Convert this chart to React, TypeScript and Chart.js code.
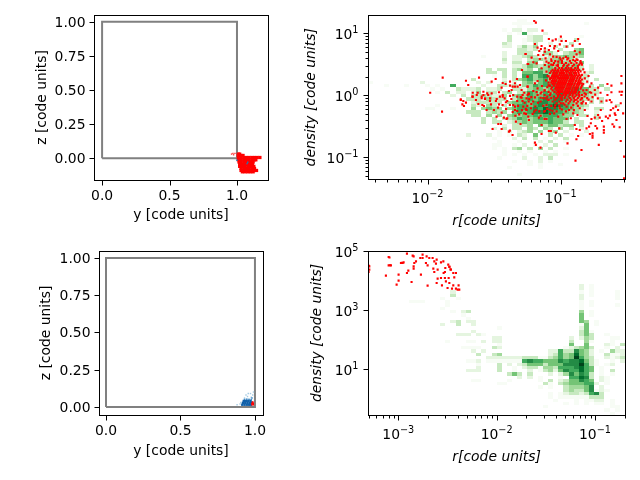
import { useEffect, useRef } from "react";
import { Chart, registerables } from "chart.js";

Chart.register(...registerables);
Chart.defaults.font.family = '"DejaVu Sans"';
Chart.defaults.color = "#000";

// colormap steps of the 2d histograms (digit 1..9 in the bin lists)
const GREENS = ["", "#f7fcf5", "#e5f5e0", "#c7e9c0", "#a1d99b", "#74c476", "#41ab5d", "#238b45", "#006d2c", "#00441b"];
const BINS = 50;

const boxEdge = [[0, 0], [1, 0], [1, 1], [0, 1], [0, 0]];

// top left panel, y / z position of the particles
const topBlobZ = [0.03, 0.02, 0.005, -0.012, -0.028, -0.045, -0.06, -0.075, -0.09, -0.1];
const topBlobY = [
  [1.01, 1.02],
  [1.01, 1.03, 1.045],
  [1.01, 1.03, 1.05, 1.07, 1.09, 1.11, 1.13, 1.15, 1.17],
  [1.01, 1.03, 1.05, 1.07, 1.09, 1.11, 1.13, 1.14],
  [1.015, 1.03, 1.05, 1.07, 1.09, 1.105, 1.12],
  [1.02, 1.04, 1.06, 1.08, 1.1, 1.115],
  [1.02, 1.04, 1.06, 1.08, 1.1, 1.115, 1.125],
  [1.03, 1.05, 1.07, 1.09, 1.11, 1.13],
  [1.03, 1.05, 1.07, 1.09, 1.11, 1.13, 1.145],
  [1.04, 1.06, 1.08, 1.1, 1.12],
];
const topStray = [[0.96, 0.03], [0.975, 0.025], [0.985, 0.035], [0.97, 0.035]];
const topBlue = [[1.0, -0.015], [1.075, -0.04], [1.08, -0.03]];

// bottom left panel
const lowLight = [[0.88, 0.015], [0.9, 0.02], [0.92, 0.02], [0.93, 0.06], [0.95, 0.07], [0.97, 0.09], [0.985, 0.08], [0.94, 0.08], [0.96, 0.055], [0.975, 0.065], [0.99, 0.1], [0.905, 0.03], [0.955, 0.09]];
const lowMid = [[0.93, 0.05], [0.945, 0.052], [0.96, 0.048], [0.975, 0.05], [0.98, 0.06]];
const lowDark = [
  [0.915, 0.015], [0.93, 0.015], [0.945, 0.015], [0.96, 0.015], [0.972, 0.015],
  [0.92, 0.028], [0.935, 0.028], [0.95, 0.028], [0.965, 0.028], [0.975, 0.03],
  [0.925, 0.04], [0.94, 0.04], [0.955, 0.04], [0.97, 0.04],
];
const lowRed = [[0.98, 0.015], [0.988, 0.015], [0.98, 0.025], [0.988, 0.025], [0.985, 0.033]];

// top right panel, [row from top, first column, counts]
const topHist: [number, number, string][] = [
  [1, 29, "11"], [2, 28, "1111"], [2, 42, "1"], [3, 29, "1"], [4, 26, "1.22.22"], [5, 27, "1.161..2"],
  [6, 27, "3...233"], [6, 41, "1"], [7, 27, "3..1233...2..3"], [8, 26, "32..1.3..2...3"], [9, 26, "22.2424...3.3"],
  [10, 29, "3323.2..3..45"], [11, 26, "2..333.1442.3445"], [12, 22, "1...2.22343223445434"],
  [13, 26, "3.22.3443345342"], [14, 26, "2.33.45.34454435"], [15, 28, "22354345445453.2"],
  [16, 23, "3.33.3434.545546553.2"], [17, 23, "33.3.3.55664565452.23"], [18, 24, "1.3.3.6646746565333"],
  [19, 20, "3.....2.345645645555432.3"], [20, 0, "1"], [20, 10, "2..........2.2..3.2.4535656545332"],
  [21, 3, "1...1...1.1..6.....2..33232446566665544.3.4"], [22, 12, "1.1..32223.223..33245545665675533.3"],
  [23, 13, "1.3.22.24.33.34.3465465676765533"], [24, 16, "2.3.3343224.45465566676554432"],
  [25, 19, "33324333.3556567677653433.3"], [26, 20, "233333.455656776765544.3.3"],
  [27, 13, "1......32.43.3.566567678765443.....3"], [28, 11, "11...1...4.4544.4566676877665432.33"],
  [29, 19, "333.3434.56567787665443..2"], [30, 20, "33.4.4.4545565666544.33.3"],
  [31, 22, "3.3.3346545656555.3...3"], [32, 22, "3.33.234545556553.33"], [33, 26, "2.3334.5355344.3"],
  [34, 24, "2.3.33.43.43.4.3.2"], [35, 25, "1.2.234.4.34.2...2"], [36, 19, "2...2.1.1.32.5..3.3.1.1"],
  [37, 24, "1...2.3.3.1.2.3"], [38, 25, "1...1...2.3..1"], [39, 24, "11..1.2.1.2.3"], [40, 24, "1.1.34.3.4.3..1"],
  [41, 26, "1..1.1..1.1"], [42, 26, "1.1.1.1.222.1"], [43, 25, "1....2..2.3"], [44, 28, "1..1.2.1"],
  [45, 31, "1.1...1"], [46, 27, "1.....1"], [48, 29, "1"],
];
const topLogR = [-2.445, -0.516];
const topLogDensity = [-1.355, 1.29];

// red particles, [log10 r, log10 density]
const topPoints = [
  [-1.98, 0.04], [-1.886, 0.284], [-1.891, -0.264], [-1.75, -0.076], [-1.731, -0.092], [-1.738, -0.146], [-1.726, -0.172], [-1.711, -0.119],
  [-1.711, 0.235], [-1.613, 0.284], [-1.694, 0.166], [-1.518, 0.22], [-1.488, 0.263], [-1.435, 0.198], [-1.413, 0.182], [-1.38, 0.22],
  [-1.343, 0.194], [-1.328, 0.263], [-1.263, 0.666], [-1.248, 0.505], [-1.29, 0.408], [-1.248, 0.3], [-1.38, 0.155], [-1.36, 0.14],
  [-1.343, 0.14], [-1.323, 0.14], [-1.305, 0.166], [-1.248, 0.14], [-1.443, 0.123], [-1.66, 0.04], [-1.623, 0.04], [-1.58, 0.058],
  [-1.551, 0.03], [-1.518, 0.03], [-1.463, 0.048], [-1.435, 0.005], [-1.388, 0.07], [-1.368, 0.086], [-1.293, 0.086], [-1.273, 0.04],
  [-1.24, 0.03], [-1.66, -0.022], [-1.63, 0.005], [-1.58, 0.005], [-1.544, 0.005], [-1.593, -0.048], [-1.568, -0.06], [-1.53, -0.05],
  [-1.435, -0.022], [-1.38, -0.01], [-1.356, 0.005], [-1.326, -0.022], [-1.285, 0.005], [-1.248, 0.005], [-1.75, -0.065], [-1.663, -0.022],
  [-1.636, -0.076], [-1.618, -0.14], [-1.593, -0.022], [-1.588, -0.156], [-1.576, -0.172], [-1.568, -0.049], [-1.556, -0.237], [-1.501, -0.237],
  [-1.531, -0.092], [-1.523, -0.146], [-1.486, -0.092], [-1.463, -0.146], [-1.456, -0.022], [-1.436, -0.156], [-1.411, -0.113], [-1.401, -0.092],
  [-1.381, -0.156], [-1.356, -0.156], [-1.326, -0.092], [-1.293, -0.038], [-1.286, -0.092], [-1.256, -0.049], [-1.24, -0.1], [-1.443, -0.28],
  [-1.481, -0.345], [-1.426, -0.36], [-1.401, -0.371], [-1.406, -0.382], [-1.326, -0.253], [-1.343, -0.237], [-1.311, -0.307], [-1.273, -0.291],
  [-1.256, -0.237], [-1.238, -0.398], [-1.336, -0.425], [-1.301, -0.463], [-1.468, -0.463], [-1.448, -0.463], [-1.511, -0.543], [-1.443, -0.543],
  [-1.388, -0.586], [-1.381, -0.57], [-1.361, -0.64], [-1.281, -0.183], [-1.261, -0.22], [-1.343, -0.183], [-1.256, -0.237], [-1.243, -0.344],
  [-1.236, -0.06], [-1.206, -0.1], [-1.223, -0.21], [-1.198, -0.264], [-1.186, -0.237], [-1.163, -0.36], [-1.143, -0.479], [-1.123, -0.264],
  [-1.106, -0.382], [-1.106, -0.156], [-1.088, -0.576], [-1.073, -0.576], [-1.036, -0.602], [-1.01, -0.533], [-1.018, -0.344], [-1.048, -0.291],
  [-0.98, -0.307], [-0.955, -0.382], [-0.923, -0.371], [-0.905, -0.291], [-0.873, -0.318], [-0.893, -0.479], [-0.881, -0.543], [-0.856, -0.56],
  [-0.868, -0.656], [-0.881, -0.71], [-0.948, -0.775], [-1.143, -0.624], [-1.193, -0.764], [-1.186, -0.8], [-1.151, -0.844], [-0.843, -0.882],
  [-0.888, -1.054], [-0.713, -0.8], [-0.78, -0.624], [-0.76, -0.613], [-0.76, -0.651], [-0.76, -0.683], [-0.805, -0.533], [-0.786, -0.506],
  [-0.773, -0.452], [-0.768, -0.382], [-0.738, -0.495], [-0.798, -0.334], [-0.743, -0.36], [-0.718, -0.318], [-0.706, -0.36], [-0.688, -0.414],
  [-0.675, -0.506], [-0.675, -0.56], [-0.675, -0.602], [-0.726, -0.533], [-0.66, -0.344], [-0.643, -0.371], [-0.63, -0.328], [-0.61, -0.468],
  [-0.598, -0.506], [-0.58, -0.398], [-0.556, -0.516], [-0.588, -0.318], [-0.593, -0.291], [-0.623, -0.237], [-0.605, -0.21], [-0.585, -0.183],
  [-0.568, -0.237], [-0.548, -0.129], [-0.53, -0.291], [-0.693, -0.1], [-0.655, -0.086], [-0.63, -0.076], [-0.618, -0.113], [-0.698, -0.237],
  [-0.548, -0.737], [-0.523, -0.99], [-0.523, -1.339], [-0.843, -0.129], [-0.856, -0.21], [-0.768, -0.1], [-0.905, -0.156], [-0.818, -0.237],
  [-0.936, -0.237], [-0.955, -0.183], [-0.998, -0.129], [-1.005, -0.21], [-0.93, -0.1], [-0.893, -0.076], [-1.043, -0.2], [-1.08, -0.237],
  [-1.118, -0.253], [-1.093, -0.076], [-1.198, 1.198], [-1.186, 1.171], [-1.136, 1.042], [-0.998, 0.946], [-1.088, 0.908], [-1.06, 0.881],
  [-1.036, 0.902], [-0.993, 0.876], [-0.96, 0.876], [-0.893, 0.876], [-0.868, 0.908], [-0.856, 0.827], [-1.193, 0.827], [-1.006, 0.822],
  [-0.91, 0.8], [-0.955, 0.784], [-1.173, 0.768], [-1.143, 0.795], [-1.08, 0.795], [-1.043, 0.795], [-1.118, 0.757], [-1.148, 0.747],
  [-1.048, 0.757], [-1.263, 0.666], [-1.16, 0.714], [-1.118, 0.704], [-1.088, 0.73], [-1.018, 0.714], [-0.893, 0.714], [-0.856, 0.693],
  [-0.88, 0.66], [-1.168, 0.65], [-1.13, 0.65], [-1.08, 0.66], [-1.056, 0.623], [-1.006, 0.607], [-1.218, 0.607], [-1.113, 0.596],
  [-1.156, 0.585], [-1.243, 0.505], [-1.205, 0.532], [-1.18, 0.515], [-1.106, 0.542], [-1.068, 0.553], [-1.018, 0.542], [-0.98, 0.596],
  [-0.943, 0.596], [-0.905, 0.569], [-0.873, 0.569], [-0.843, 0.515], [-1.143, 0.435], [-1.118, 0.489], [-1.088, 0.462], [-1.056, 0.489],
  [-1.03, 0.48], [-1.248, 0.3], [-1.106, 0.381], [-1.098, 0.316], [-1.08, 0.273], [-1.173, 0.23], [-1.193, 0.193], [-1.248, 0.139],
  [-1.173, 0.112], [-1.143, 0.048], [-1.205, 0.069], [-1.173, 0.005], [-1.238, 0.021], [-1.193, -0.033], [-0.818, 0.273], [-0.843, 0.193],
  [-0.78, 0.139], [-0.768, 0.193], [-0.805, 0.085], [-0.81, 0.015], [-0.78, 0.048], [-0.718, 0.123], [-0.743, 0.085], [-0.648, 0.182],
  [-0.618, 0.155], [-0.543, 0.311], [-0.543, 0.193], [-0.618, 0.048], [-0.556, 0.058], [-0.538, 0.058], [-0.648, 0.005], [-0.543, 0.005],
  // second pass over the band left of the cloud and its rim
  [-1.48, -0.06], [-1.47, -0.2], [-1.42, -0.05], [-1.41, -0.22], [-1.37, -0.06], [-1.36, -0.27], [-1.34, -0.33], [-1.32, -0.17], [-1.3, -0.03],
  [-1.29, -0.24], [-1.27, -0.12], [-1.26, -0.3], [-1.25, -0.17], [-1.22, -0.03], [-1.22, -0.14], [-1.21, -0.3], [-1.19, -0.18], [-1.18, 0.05],
  [-1.17, -0.12], [-1.16, -0.26], [-1.15, -0.04], [-1.15, -0.33], [-1.14, 0.15], [-1.13, -0.17], [-1.12, 0.08], [-1.12, -0.38], [-1.11, 0.24],
  [-1.11, -0.05], [-1.1, -0.22], [-1.09, 0.16], [-1.08, -0.3], [-1.07, -0.17], [-1.06, -0.25], [-1.04, -0.16], [-1.03, -0.26], [-1.01, -0.17],
  [-0.99, -0.23], [-0.97, -0.15], [-0.96, -0.26], [-0.92, -0.2], [-0.9, -0.24], [-0.87, -0.17], [-0.84, -0.05], [-0.81, -0.13], [-0.79, -0.07],
  [-0.82, 0.37], [-0.83, 0.42], [-0.8, 0.22], [-0.79, 0.31], [-0.77, 0.04], [-0.76, -0.03], [-0.74, 0.01], [-0.72, -0.05], [-0.7, 0.04],
];
// middle of the red cloud, one density per row of radii
const topCoreDensity = [0.62, 0.58, 0.55, 0.52, 0.495, 0.47, 0.44, 0.41, 0.385, 0.36, 0.33, 0.305, 0.28, 0.255, 0.23, 0.205, 0.18, 0.155, 0.13, 0.105, 0.08, 0.055, 0.03, 0.005, -0.02, -0.045, -0.07, -0.1, -0.13];
const topCoreR = [
  [-1.03, -0.96, -0.9],
  [-1.07, -1, -0.95, -0.88],
  [-1.04, -0.99, -0.93, -0.89, -0.85],
  [-1.09, -1.05, -0.99, -0.96, -0.92, -0.88, -0.85],
  [-1.07, -1.02, -0.975, -0.94, -0.9, -0.86, -0.84],
  [-1.02, -0.98, -0.95, -0.91, -0.87],
  [-1.04, -1.01, -0.99, -0.96, -0.94, -0.92, -0.89, -0.87],
  [-1.06, -1.04, -1.02, -1, -0.985, -0.97, -0.95, -0.93, -0.915, -0.9, -0.88, -0.86],
  [-1.07, -1.05, -1.03, -1.015, -0.995, -0.98, -0.96, -0.945, -0.925, -0.91, -0.89, -0.87, -0.85],
  [-1.08, -1.055, -1.04, -1.025, -1.005, -0.99, -0.975, -0.955, -0.935, -0.92, -0.9, -0.885, -0.865],
  [-1.06, -1.045, -1.03, -1.01, -0.995, -0.98, -0.965, -0.95, -0.93, -0.915, -0.895, -0.88, -0.86, -0.84],
  [-1.09, -1.065, -1.05, -1.035, -1.02, -1, -0.985, -0.97, -0.955, -0.94, -0.92, -0.905, -0.89, -0.87, -0.85],
  [-1.07, -1.055, -1.04, -1.02, -1.005, -0.99, -0.975, -0.96, -0.945, -0.925, -0.91, -0.895, -0.875, -0.855],
  [-1.08, -1.06, -1.045, -1.03, -1.01, -0.995, -0.98, -0.965, -0.95, -0.93, -0.915, -0.9, -0.88, -0.86, -0.84],
  [-1.065, -1.05, -1.035, -1.015, -1, -0.985, -0.97, -0.955, -0.935, -0.92, -0.905, -0.885, -0.865, -0.85],
  [-1.09, -1.07, -1.055, -1.04, -1.02, -1.005, -0.99, -0.975, -0.96, -0.94, -0.925, -0.91, -0.89, -0.87, -0.855],
  [-1.06, -1.045, -1.025, -1.01, -0.995, -0.98, -0.965, -0.945, -0.93, -0.915, -0.895, -0.875, -0.86, -0.83],
  [-1.08, -1.05, -1.03, -1.015, -1, -0.985, -0.97, -0.95, -0.935, -0.92, -0.9, -0.88, -0.865, -0.84],
  [-1.1, -1.065, -1.035, -1.02, -1.005, -0.99, -0.975, -0.955, -0.94, -0.925, -0.905, -0.885, -0.87, -0.845],
  [-1.07, -1.04, -1.025, -1.01, -0.995, -0.98, -0.96, -0.945, -0.93, -0.91, -0.89, -0.875, -0.85],
  [-1.12, -1.06, -1.03, -1.015, -1, -0.985, -0.965, -0.95, -0.935, -0.915, -0.895, -0.88, -0.83],
  [-1.09, -1.045, -1.02, -1.005, -0.99, -0.97, -0.955, -0.94, -0.92, -0.9, -0.885, -0.86],
  [-1.15, -1.075, -1.03, -1.01, -0.975, -0.96, -0.945, -0.925, -0.905, -0.89, -0.865, -0.82],
  [-1.12, -1.08, -1.02, -1, -0.98, -0.96, -0.93, -0.91, -0.88, -0.86, -0.84],
  [-1.1, -1.05, -1.02, -0.99, -0.965, -0.94, -0.91, -0.89, -0.86, -0.82],
  [-1.13, -1.07, -1.03, -1, -0.97, -0.93, -0.9, -0.87, -0.84, -0.8],
  [-1.09, -1.04, -0.99, -0.95, -0.92, -0.88, -0.85],
  [-1.15, -1.06, -1.01, -0.96, -0.9, -0.87, -0.83],
  [-1.03, -0.98, -0.94, -0.88, -0.84],
];

// bottom right panel
const lowHist: [number, number, string][] = [
  [10, 41, "2.1"], [11, 41, "2.1"], [12, 16, "2"], [12, 41, "1.1....1"], [13, 16, "3"], [13, 41, "2.1....1"],
  [14, 14, "1..1"], [14, 41, "2......1"], [15, 8, "111....1"], [15, 41, "1.1"], [16, 15, "1"], [16, 41, "1.1....1"],
  [17, 14, "1"], [17, 41, "1"], [18, 16, "1.23"], [18, 41, "4.1"], [19, 18, "1"], [19, 41, "5.1"], [20, 19, "1"], [20, 41, "5"],
  [21, 16, "23.22"], [21, 41, "54.1"], [22, 14, "2..3..2"], [22, 41, "15.1"], [23, 25, "1"], [23, 41, "25"],
  [24, 20, "2"], [24, 41, "351"], [25, 17, "222.21"], [25, 41, "353..1"], [26, 24, "22"], [26, 39, "2.243...11"],
  [27, 15, "1...11.2"], [27, 24, "22"], [27, 39, "3..41...1"], [28, 25, "1"], [28, 39, "5..5...21.3"],
  [29, 18, "1111"], [29, 24, "32"], [29, 38, "123453"], [29, 46, "1.2"],
  [30, 20, "2.2"], [30, 35, "226337542.1.422"], [31, 21, "3..34"], [31, 35, "236458542..3112"],
  [32, 23, "222222233311346459643..2123"], [33, 19, "112"], [33, 23, "1111111"], [33, 30, "67665557677853"], [33, 44, "1..1.2"],
  [34, 21, "1"], [34, 25, "3.2.23"], [34, 31, "55535557779631"], [34, 46, "12"],
  [35, 21, "2"], [35, 25, "3..1.23"], [35, 32, "314436667865"], [35, 45, "1"],
  [36, 19, "222"], [36, 25, "3..1"], [36, 31, "2.13425766865"], [36, 45, "1.3"],
  [37, 27, "353"], [37, 31, "3...2.2475763"], [37, 45, "1.1"], [38, 29, "2"], [38, 31, "2.1...1.66873"], [38, 45, "21"],
  [39, 20, "11"], [39, 27, "1"], [39, 33, "1.3.2355765"], [39, 45, "21"], [40, 25, "11"], [40, 34, "31.34555662"], [40, 46, "1"],
  [41, 33, "1.1"], [41, 38, "344457.2"], [42, 38, "343357121"], [43, 35, "1.123323673"], [44, 35, "1.11"], [44, 39, "1111333"],
  [45, 36, "1...1.1122.1"], [46, 38, "1.1.1.11.1"], [47, 34, "1"], [47, 47, "11"], [48, 46, "1.1"], [49, 47, "1"],
];
const lowLogR = [-3.305, -0.695];
const lowLogDensity = [-0.544, 5];
const lowPoints = [
  [-3.295, 4.482], [-3.295, 4.369], [-3.302, 4.29], [-3.298, 4.5], [-3.098, 4.797], [-3.09, 4.78], [-3.098, 4.515], [-3.075, 4.515], [-3.085, 4.52],
  [-3.126, 4.166], [-2.997, 4.2], [-2.997, 3.997], [-3.017, 3.862], [-2.973, 4.594], [-2.956, 4.594], [-2.946, 4.617], [-2.965, 4.6], [-2.912, 4.91],
  [-2.854, 4.842], [-2.844, 4.82], [-2.82, 4.651], [-2.837, 4.594], [-2.844, 4.482], [-2.844, 4.403], [-2.898, 4.335], [-2.912, 4.256],
  [-2.865, 3.952], [-2.77, 4.2], [-2.753, 4.876], [-2.753, 4.763], [-2.776, 4.763], [-2.712, 4.82], [-2.719, 4.594], [-2.702, 4.515],
  [-2.685, 4.763], [-2.651, 4.763], [-2.634, 4.651], [-2.617, 4.572], [-2.61, 4.707], [-2.566, 4.617], [-2.542, 4.651], [-2.644, 4.403],
  [-2.634, 4.29], [-2.6, 4.065], [-2.61, 3.919], [-2.702, 3.828], [-2.556, 3.84], [-2.526, 4.29], [-2.526, 4.087], [-2.492, 4.538],
  [-2.481, 4.459], [-2.465, 4.369], [-2.441, 4.256], [-2.414, 4.256], [-2.488, 4.087], [-2.516, 3.975], [-2.499, 3.75], [-2.454, 3.727],
  [-2.441, 3.84], [-2.414, 3.727], [-2.387, 3.84], [-2.38, 3.693], [-2.397, 3.693], [-2.431, 4.11], [-2.522, 4.425], [-2.539, 4.256],
  [-2.6, 4.369], [-2.566, 4.087], [-2.481, 3.918], [-2.48, 4.47], [-2.47, 4.38],
];

const minorTicks = (lo: number, hi: number) => {
  const out: number[] = [];
  for (let e = Math.floor(lo); e <= Math.ceil(hi); e++) {
    for (let m = 2; m <= 9; m++) {
      const v = m * 10 ** e;
      if (Math.log10(v) > lo && Math.log10(v) < hi) out.push(v);
    }
  }
  return out;
};

type Axis = {
  type: "linear" | "logarithmic";
  min: number;
  max: number;
  title: string;
  italic?: boolean;
  ticks: number[];
  labels: string[];
  exps?: number[];
  minor?: number[];
  titlePad: number;
};
type PanelProps = {
  box: number[]; // canvas left, top, width, height
  plot: number[]; // plot left, top, right, bottom inside the canvas
  x: Axis;
  y: Axis;
  hist?: [number, number, string][];
  datasets: any[];
};

const logAxis = (range: number[], title: string, exps: number[], titlePad: number, minor = true): Axis => ({
  type: "logarithmic",
  min: 10 ** range[0],
  max: 10 ** range[1],
  title,
  italic: true,
  ticks: exps.map((e) => 10 ** e),
  labels: [],
  exps,
  minor: minor ? minorTicks(range[0], range[1]) : [],
  titlePad,
});
const linAxis = (min: number, max: number, title: string, ticks: number[], digits: number, titlePad: number): Axis => ({
  type: "linear",
  min,
  max,
  title,
  ticks,
  labels: ticks.map((t) => t.toFixed(digits)),
  titlePad,
});

const dots = (data: number[][], color: string, radius: number) => ({
  data: data.map(([x, y]) => ({ x, y })),
  backgroundColor: color,
  pointStyle: "rect",
  pointRadius: radius,
  pointBorderWidth: 0,
});
const logRed = (data: number[][]) => dots(data.map(([r, d]) => [10 ** r, 10 ** d]), "#ff0000", 1.5);
const boxLine = {
  data: boxEdge.map(([x, y]) => ({ x, y })),
  showLine: true,
  borderColor: "#808080",
  borderWidth: 2,
  borderJoinStyle: "miter",
  pointRadius: 0,
};

const scaleFor = (axis: Axis, isX: boolean, size: number) => ({
  type: axis.type,
  min: axis.min,
  max: axis.max,
  grid: { display: false, drawTicks: false },
  border: { display: false },
  afterBuildTicks: (s: any) => {
    s.ticks = axis.ticks.map((value) => ({ value }));
  },
  afterFit: (s: any) => {
    if (isX) s.height = size;
    else s.width = size;
    s.paddingLeft = s.paddingRight = s.paddingTop = s.paddingBottom = 0;
  },
  // tick labels are drawn in the panel plugin, chart.js can't shift them
  ticks: { display: false },
  title: {
    display: true,
    text: axis.title,
    color: "#000",
    font: { size: 13.9, style: axis.italic ? "italic" : "normal" },
    padding: isX ? { top: 0, bottom: axis.titlePad } : { top: axis.titlePad, bottom: 0 },
  },
});

function Panel({ box, plot, x, y, hist, datasets }: PanelProps) {
  const ref = useRef<HTMLCanvasElement>(null);

  useEffect(() => {
    if (!ref.current) return;
    const chart = new Chart(ref.current, {
      type: "scatter",
      data: { datasets },
      options: {
        animation: false,
        responsive: false,
        layout: { padding: { left: 0, top: plot[1], right: box[2] - plot[2], bottom: 0 } },
        plugins: { legend: { display: false }, tooltip: { enabled: false } },
        scales: {
          x: scaleFor(x, true, box[3] - plot[3]),
          y: scaleFor(y, false, plot[0]),
        },
      },
      plugins: [
        {
          id: "panelFrame",
          beforeDatasetsDraw(c: any) {
            if (!hist) return;
            const { ctx, scales } = c;
            const x0 = Math.log10(scales.x.min);
            const x1 = Math.log10(scales.x.max);
            const y0 = Math.log10(scales.y.max);
            const y1 = Math.log10(scales.y.min);
            const xAt = (i: number) => Math.round(scales.x.getPixelForValue(10 ** (x0 + (i * (x1 - x0)) / BINS)));
            const yAt = (j: number) => Math.round(scales.y.getPixelForValue(10 ** (y0 + (j * (y1 - y0)) / BINS)));
            for (const [row, start, counts] of hist) {
              [...counts].forEach((d, k) => {
                const level = Number(d);
                if (!level) return;
                const i = start + k;
                if (i >= BINS) return;
                ctx.fillStyle = GREENS[level];
                ctx.fillRect(xAt(i), yAt(row), xAt(i + 1) - xAt(i), yAt(row + 1) - yAt(row));
              });
            }
          },
          afterDraw(c: any) {
            const { ctx, chartArea: a, scales } = c;
            const left = Math.round(a.left) + 0.5;
            const right = Math.round(a.right) + 0.5;
            const top = Math.round(a.top) + 0.5;
            const bottom = Math.round(a.bottom) + 0.5;
            ctx.save();
            ctx.strokeStyle = "#000";
            ctx.fillStyle = "#000";
            ctx.lineWidth = 1;
            ctx.strokeRect(left, top, right - left, bottom - top);
            const mark = (isX: boolean, values: number[], len: number) => {
              const s = isX ? scales.x : scales.y;
              for (const v of values) {
                const p = Math.round(s.getPixelForValue(v)) + 0.5;
                ctx.beginPath();
                if (isX) {
                  ctx.moveTo(p, bottom);
                  ctx.lineTo(p, bottom + len);
                } else {
                  ctx.moveTo(left, p);
                  ctx.lineTo(left - len, p);
                }
                ctx.stroke();
              }
            };
            mark(true, x.ticks, 5);
            mark(false, y.ticks, 5);
            mark(true, x.minor ?? [], 3);
            mark(false, y.minor ?? [], 3);
            const label = (axis: Axis, isX: boolean) => {
              const s = isX ? scales.x : scales.y;
              ctx.textBaseline = "alphabetic";
              axis.labels.forEach((text, i) => {
                const p = s.getPixelForValue(axis.ticks[i]);
                ctx.font = '13.9px "DejaVu Sans"';
                ctx.textAlign = isX ? "center" : "right";
                ctx.fillText(text, isX ? p : left - 9, isX ? bottom + 19 : p + 5);
              });
              // decade labels with a raised exponent
              (axis.exps ?? []).forEach((e) => {
                const exponent = String(e).replace("-", "\u2212");
                const p = s.getPixelForValue(10 ** e);
                ctx.textAlign = "left";
                ctx.font = '13.9px "DejaVu Sans"';
                const baseW = ctx.measureText("10").width;
                ctx.font = '9.7px "DejaVu Sans"';
                const expW = ctx.measureText(exponent).width;
                const startX = isX ? p - (baseW + expW) / 2 : left - 10 - baseW - expW;
                const baseY = isX ? bottom + 23.5 : p + 6;
                ctx.font = '13.9px "DejaVu Sans"';
                ctx.fillText("10", startX, baseY);
                ctx.font = '9.7px "DejaVu Sans"';
                ctx.fillText(exponent, startX + baseW, baseY - 6);
              });
            };
            label(x, true);
            label(y, false);
            ctx.restore();
          },
        },
      ],
    } as any);
    return () => chart.destroy();
  }, []);

  return (
    <canvas
      ref={ref}
      width={box[2]}
      height={box[3]}
      style={{ position: "absolute", left: box[0], top: box[1], width: box[2], height: box[3] }}
    />
  );
}

const topCore = topCoreR.flatMap((row, j) => row.map((r) => [r, topCoreDensity[j]]));
const topBlob = topBlobY.flatMap((row, j) => row.map((v) => [v, topBlobZ[j]]));

export default function App() {
  return (
    <div style={{ position: "fixed", left: 0, top: 0, width: 640, height: 480, background: "#fff" }}>
      <Panel
        box={[0, 0, 300, 240]}
        plot={[94, 15, 268, 180]}
        x={linAxis(-0.06, 1.23, "y [code units]", [0, 0.5, 1], 1, 16.7)}
        y={linAxis(-0.16, 1.05, "z [code units]", [0, 0.25, 0.5, 0.75, 1], 2, 33.7)}
        datasets={[dots(topBlue, "#1f77b4", 1), dots(topStray, "#ff4040", 1), dots(topBlob, "#ff0000", 2.3), boxLine]}
      />
      <Panel
        box={[300, 0, 340, 240]}
        plot={[68.3, 15.3, 325, 179.3]}
        x={logAxis(topLogR, "r[code units]", [-2, -1], 10.7)}
        y={logAxis(topLogDensity, "density [code units]", [-1, 0, 1], 2.7)}
        hist={topHist}
        datasets={[logRed(topPoints.concat(topCore))]}
      />
      <Panel
        box={[0, 240, 300, 240]}
        plot={[99, 11, 263, 175]}
        x={linAxis(-0.047, 1.054, "y [code units]", [0, 0.5, 1], 1, 20.7)}
        y={linAxis(-0.054, 1.047, "z [code units]", [0, 0.25, 0.5, 0.75, 1], 2, 37.7)}
        datasets={[dots(lowRed, "#ff0000", 1.2), dots(lowDark, "#0f5fa8", 1.7), dots(lowMid, "#4f94cc", 1.2), dots(lowLight, "#a6cbe3", 1), boxLine]}
      />
      <Panel
        box={[300, 240, 340, 240]}
        plot={[68.3, 11, 325, 175]}
        x={logAxis(lowLogR, "r[code units]", [-3, -2, -1], 14.7)}
        y={logAxis(lowLogDensity, "density [code units]", [1, 3, 5], 8.7, false)}
        hist={lowHist}
        datasets={[logRed(lowPoints)]}
      />
    </div>
  );
}
